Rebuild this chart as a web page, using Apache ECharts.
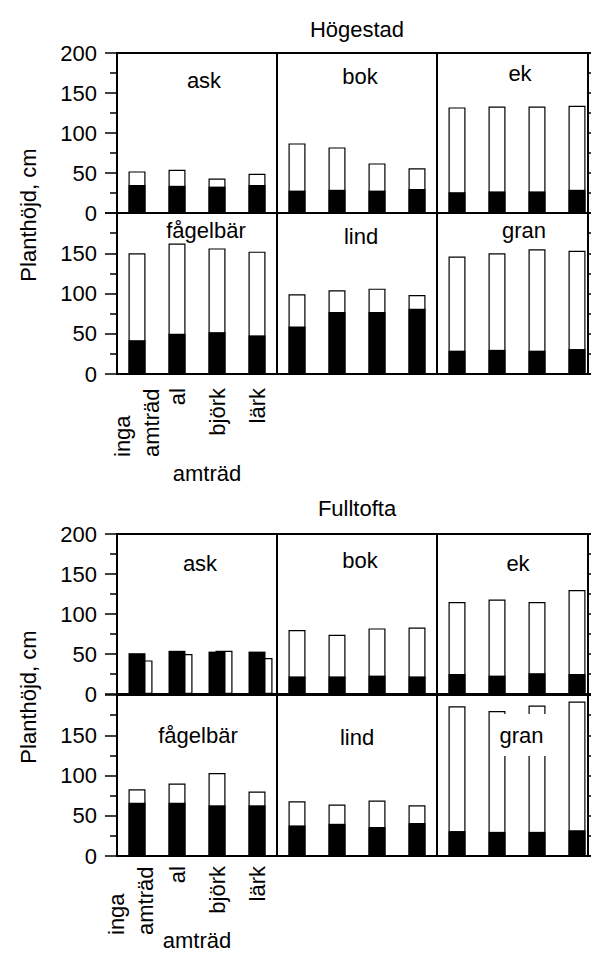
<!DOCTYPE html>
<html>
<head>
<meta charset="utf-8">
<script src="https://cdn.jsdelivr.net/npm/echarts@6/dist/echarts.min.js"></script>
<style>
html,body{margin:0;padding:0;background:#fff;}
#chart{width:591px;height:953px;}
</style>
</head>
<body>
<div id="chart"></div>
<script>
// ---------- data ----------
const categories = ['inga\namträd', 'al', 'björk', 'lärk'];
const species = ['ask', 'bok', 'ek', 'fågelbär', 'lind', 'gran'];
const sites = ['Högestad', 'Fulltofta'];
const yTicks = [0, 50, 100, 150, 200];

// Högestad: white = total height, black = inner (dark) bar
const hogAskWhite = [52, 54, 43, 49];
const hogAskBlack = [35, 34, 33, 35];
const hogBokWhite = [87, 82, 62, 56];
const hogBokBlack = [28, 29, 28, 30];
const hogEkWhite = [132, 133, 133, 134];
const hogEkBlack = [26, 27, 27, 29];
const hogFagWhite = [150, 162, 156, 152];
const hogFagBlack = [42, 50, 52, 48];
const hogLindWhite = [99, 104, 106, 98];
const hogLindBlack = [59, 77, 77, 81];
const hogGranWhite = [146, 150, 155, 153];
const hogGranBlack = [29, 30, 29, 31];

// Fulltofta
const fulAskWhite = [42, 50, 54, 45];
const fulAskBlack = [51, 54, 53, 53];
const fulBokWhite = [80, 74, 82, 83];
const fulBokBlack = [22, 22, 23, 22];
const fulEkWhite = [115, 118, 115, 130];
const fulEkBlack = [25, 23, 26, 25];
const fulFagWhite = [83, 90, 103, 80];
const fulFagBlack = [66, 66, 63, 63];
const fulLindWhite = [68, 64, 69, 63];
const fulLindBlack = [38, 40, 36, 41];
const fulGranWhite = [186, 180, 187, 192];
const fulGranBlack = [31, 30, 30, 32];

const whiteData = [
  [hogAskWhite, hogBokWhite, hogEkWhite, hogFagWhite, hogLindWhite, hogGranWhite],
  [fulAskWhite, fulBokWhite, fulEkWhite, fulFagWhite, fulLindWhite, fulGranWhite]
];
const blackData = [
  [hogAskBlack, hogBokBlack, hogEkBlack, hogFagBlack, hogLindBlack, hogGranBlack],
  [fulAskBlack, fulBokBlack, fulEkBlack, fulFagBlack, fulLindBlack, fulGranBlack]
];

// ---------- layout ----------
const FONT = '"Liberation Sans", Arial, Helvetica, sans-serif';
const FS = 22;
const colLeft = [117, 277, 437];
const colW = 160;
const rowTops = [[53, 213], [534, 695]];
const rowH = [160, 161];
const titlePos = [[357, 29], [357, 508]];
const yNamePos = [[28, 215], [28, 697]];
const xNamePos = [[207, 473], [197, 940]];
const catMargin = [14, 10];
const labelPos = [
  [[204, 80], [360, 76], [520, 73], [206, 230], [361, 236], [524, 230]],
  [[200, 563], [360, 560], [518, 563], [198, 735], [357, 737], [520, 735]]
];

const grids = [], xAxes = [], yAxes = [], series = [], graphics = [];

function addGrid(left, top, h, show) {
  grids.push({
    left: left, top: top, width: colW, height: h,
    show: show, borderColor: '#000', borderWidth: 2,
    backgroundColor: 'transparent',
    containLabel: false, outerBoundsMode: 'none'
  });
  return grids.length - 1;
}

function makeCatFormatter(s) {
  return function (v) {
    const parts = v.split('\n');
    if (parts.length === 1) return '{s|' + v + '}';
    let out = parts.map(t => '{w|' + t + '}').join('\n');
    if (s === 1) out += '\n{e| }';
    return out;
  };
}

for (let s = 0; s < 2; s++) {
  for (let r = 0; r < 2; r++) {
    for (let c = 0; c < 3; c++) {
      const k = r * 3 + c;
      const gi = addGrid(colLeft[c], rowTops[s][r], rowH[r], true);
      const showCat = (r === 1 && c === 0);
      xAxes.push({
        type: 'category', gridIndex: gi, data: categories,
        axisLine: {show: false}, axisTick: {show: false},
        axisLabel: {
          show: showCat, interval: 0, rotate: 90, margin: catMargin[s],
          color: '#000', fontFamily: FONT, fontSize: FS,
          formatter: makeCatFormatter(s),
          rich: {
            w: {fontFamily: FONT, fontSize: FS, lineHeight: 29, color: '#000', width: 69, align: 'left'},
            s: {fontFamily: FONT, fontSize: FS, lineHeight: 29, color: '#000'},
            e: {fontFamily: FONT, fontSize: 4, lineHeight: 12, color: '#000'}
          }
        }
      });
      const xi = xAxes.length - 1;
      yAxes.push({
        type: 'value', gridIndex: gi, min: yTicks[0], max: yTicks[yTicks.length - 1], interval: 50,
        splitLine: {show: false},
        axisLine: {show: c === 0, lineStyle: {color: '#000', width: 2}},
        axisTick: {show: c === 0, inside: false, length: 12, lineStyle: {color: '#000', width: 1.5}},
        minorTick: {show: c === 0, splitNumber: 2, length: 7, lineStyle: {color: '#000', width: 1.5}},
        axisLabel: {
          show: c === 0, margin: 20, color: '#000', fontFamily: FONT, fontSize: FS,
          formatter: function (v) { return (r === 1 && v === 200) ? '' : String(v); }
        }
      });
      const yi = yAxes.length - 1;
      if (c === 2) {
        yAxes.push({
          type: 'value', gridIndex: gi, position: 'right', offset: -9,
          min: yTicks[0], max: yTicks[yTicks.length - 1], interval: 50,
          splitLine: {show: false},
          axisLine: {show: true, lineStyle: {color: '#000', width: 2}},
          axisTick: {show: true, inside: false, length: 6, lineStyle: {color: '#000', width: 1.5}},
          minorTick: {show: true, splitNumber: 2, length: 4, lineStyle: {color: '#000', width: 1.5}},
          axisLabel: {show: false}
        });
      }
      // white bars
      let wxi = xi, wyi = yi;
      if (s === 1 && k === 0) {
        // the white bars of Fulltofta/ask are drawn offset to the right in the original
        const g2 = addGrid(colLeft[c] + 7, rowTops[s][r], rowH[r], false);
        xAxes.push({type: 'category', gridIndex: g2, data: categories, show: false});
        yAxes.push({type: 'value', gridIndex: g2, min: 0, max: 200, interval: 50, show: false, splitLine: {show: false}});
        wxi = xAxes.length - 1; wyi = yAxes.length - 1;
      }
      series.push({
        type: 'bar', xAxisIndex: wxi, yAxisIndex: wyi, data: whiteData[s][k],
        barWidth: 17, silent: true, animation: false,
        itemStyle: {color: '#fff', borderColor: '#000', borderWidth: 1.2}
      });
      series.push({
        type: 'bar', xAxisIndex: xi, yAxisIndex: yi, data: blackData[s][k],
        barWidth: 17, barGap: '-100%', silent: true, animation: false,
        itemStyle: {color: '#000'}
      });
      // panel label
      const lp = labelPos[s][k];
      const st = {
        text: species[k], font: FS + 'px ' + FONT, fill: '#000',
        align: 'center', verticalAlign: 'middle', textAlign: 'center', textVerticalAlign: 'middle'
      };
      if (s === 1 && k === 5) {
        st.backgroundColor = '#fff';
        st.padding = [10, 5, 10, 8];
      }
      graphics.push({type: 'text', x: lp[0], y: lp[1], z: 100, silent: true, style: st});
    }
  }
  // site title
  graphics.push({type: 'text', x: titlePos[s][0], y: titlePos[s][1], z: 100, silent: true,
    style: {text: sites[s], font: FS + 'px ' + FONT, fill: '#000', align: 'center', verticalAlign: 'middle', textAlign: 'center', textVerticalAlign: 'middle'}});
  // y axis name
  graphics.push({type: 'text', x: yNamePos[s][0], y: yNamePos[s][1], rotation: Math.PI / 2, z: 100, silent: true,
    style: {text: 'Planthöjd, cm', font: FS + 'px ' + FONT, fill: '#000', align: 'center', verticalAlign: 'middle', textAlign: 'center', textVerticalAlign: 'middle'}});
  // x axis name
  graphics.push({type: 'text', x: xNamePos[s][0], y: xNamePos[s][1], z: 100, silent: true,
    style: {text: 'amträd', font: FS + 'px ' + FONT, fill: '#000', align: 'center', verticalAlign: 'middle', textAlign: 'center', textVerticalAlign: 'middle'}});
}

const chart = echarts.init(document.getElementById('chart'), null, {renderer: 'svg'});
chart.setOption({
  animation: false,
  backgroundColor: '#fff',
  grid: grids,
  xAxis: xAxes,
  yAxis: yAxes,
  series: series,
  graphic: graphics
});
</script>
</body>
</html>
